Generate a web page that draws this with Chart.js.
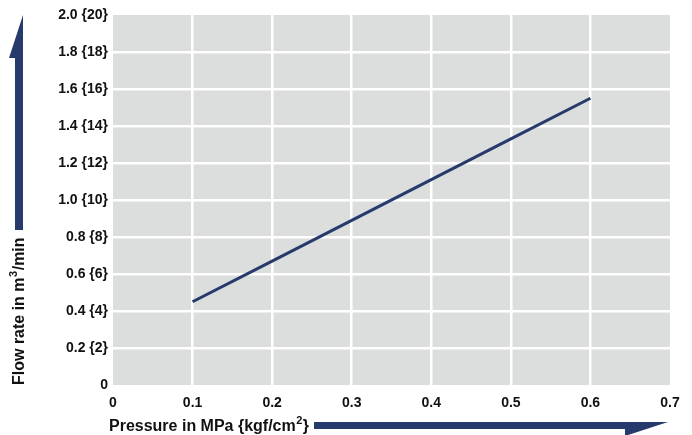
<!DOCTYPE html>
<html>
<head>
    <title>Flow rate vs Pressure</title>
    <script src="https://cdn.jsdelivr.net/npm/chart.js"></script>
    <style>
        html, body { margin: 0; padding: 0; background: #fff; }
        #wrap { width: 692px; height: 435px; }
    </style>
</head>
<body>
    <div id="wrap"><canvas id="flowChart"></canvas></div>

    <script>
        // data
        const pressure = [0.1, 0.2, 0.3, 0.4, 0.5, 0.6];
        const flowRate = [0.45, 0.67, 0.89, 1.11, 1.33, 1.55];
        const xTickLabels = ['0', '0.1', '0.2', '0.3', '0.4', '0.5', '0.6', '0.7'];
        const yTickLabels = ['0', '0.2 {2}', '0.4 {4}', '0.6 {6}', '0.8 {8}', '1.0 {10}',
                             '1.2 {12}', '1.4 {14}', '1.6 {16}', '1.8 {18}', '2.0 {20}'];

        const NAVY = '#263a6b';
        const FONT = '"Liberation Sans Narrow", "Liberation Sans", Arial, sans-serif';

        // grey plot background, axis titles and the two arrows
        const decor = {
            id: 'decor',
            beforeDraw(chart) {
                const { ctx, chartArea: a } = chart;
                ctx.save();
                ctx.fillStyle = '#dcdddd';
                ctx.fillRect(a.left, a.top, a.right - a.left, a.bottom - a.top);
                ctx.restore();
            },
            afterDraw(chart) {
                const { ctx, chartArea: a } = chart;
                ctx.save();
                ctx.fillStyle = NAVY;

                // vertical arrow (left)
                ctx.beginPath();
                ctx.moveTo(23, a.top);
                ctx.lineTo(9, 58);
                ctx.lineTo(15, 58);
                ctx.lineTo(15, 230);
                ctx.lineTo(23, 230);
                ctx.closePath();
                ctx.fill();

                // horizontal arrow (bottom)
                ctx.beginPath();
                ctx.moveTo(314, 422);
                ctx.lineTo(668, 422);
                ctx.lineTo(625, 436);
                ctx.lineTo(625, 429);
                ctx.lineTo(314, 429);
                ctx.closePath();
                ctx.fill();

                ctx.fillStyle = '#111';
                ctx.textBaseline = 'alphabetic';

                // x title
                ctx.font = 'bold 16px ' + FONT;
                let x = 109;
                const base = 431;
                const t1 = 'Pressure in MPa {kgf/cm';
                ctx.fillText(t1, x, base);
                x += ctx.measureText(t1).width;
                ctx.font = 'bold 11px ' + FONT;
                ctx.fillText('2', x + 0.5, base - 7);
                x += ctx.measureText('2').width + 1;
                ctx.font = 'bold 16px ' + FONT;
                ctx.fillText('}', x, base);

                // y title, rotated
                ctx.translate(24, a.bottom);
                ctx.rotate(-Math.PI / 2);
                ctx.font = 'bold 16px ' + FONT;
                let y = 0;
                const s1 = 'Flow rate in m';
                ctx.fillText(s1, y, 0);
                y += ctx.measureText(s1).width;
                ctx.font = 'bold 11px ' + FONT;
                ctx.fillText('3', y + 0.5, -7);
                y += ctx.measureText('3').width + 1;
                ctx.font = 'bold 16px ' + FONT;
                ctx.fillText('/min', y, 0);
                ctx.restore();
            }
        };

        const gridColor = (c) => {
            const n = c.scale.ticks.length;
            return (c.index === 0 || c.index === n - 1) ? 'rgba(0,0,0,0)' : '#ffffff';
        };

        const ctx = document.getElementById('flowChart').getContext('2d');
        const flowChart = new Chart(ctx, {
            type: 'line',
            data: {
                datasets: [{
                    data: pressure.map((p, i) => ({ x: p, y: flowRate[i] })),
                    borderColor: NAVY,
                    borderWidth: 3,
                    pointRadius: 0,
                    fill: false,
                    tension: 0
                }]
            },
            options: {
                responsive: true,
                maintainAspectRatio: false,
                animation: false,
                layout: { padding: { left: 0, top: 15, right: 22, bottom: 0 } },
                plugins: { legend: { display: false }, tooltip: { enabled: false } },
                scales: {
                    x: {
                        type: 'linear',
                        min: 0,
                        max: 0.7,
                        afterFit: (s) => { s.height = 50; },
                        ticks: {
                            stepSize: 0.1,
                            padding: 10,
                            color: '#111',
                            font: { family: FONT, size: 14, weight: 'bold' },
                            callback: (v, i) => xTickLabels[i]
                        },
                        grid: { color: gridColor, lineWidth: 2.5, drawTicks: false },
                        border: { display: false }
                    },
                    y: {
                        min: 0,
                        max: 2.0,
                        afterFit: (s) => { s.width = 113; },
                        ticks: {
                            stepSize: 0.2,
                            padding: 5,
                            color: '#111',
                            font: { family: FONT, size: 14, weight: 'bold' },
                            callback: (v, i) => yTickLabels[i]
                        },
                        grid: { color: gridColor, lineWidth: 2.5, drawTicks: false },
                        border: { display: false }
                    }
                }
            },
            plugins: [decor]
        });
    </script>
</body>
</html>
